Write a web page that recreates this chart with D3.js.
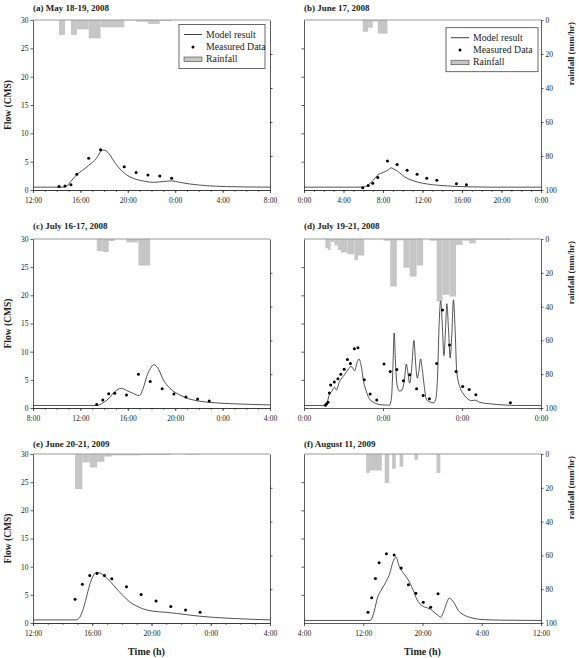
<!DOCTYPE html>
<html>
<head>
<meta charset="utf-8">
<script src="https://cdn.jsdelivr.net/npm/d3@7"></script>
<style>
  body { margin: 0; background: #fff; }
  svg { color: #222; }
  text { font-family: "Liberation Serif", "Times New Roman", serif; fill: #222; }
  .tick text { font-size: 7.5px; fill: #222; }
  .axis path, .axis line { stroke: #333; stroke-width: 0.8; }
</style>
</head>
<body>
<script>
// ---- data (time in hours from the first tick of each panel) ----
// (a) May 18-19, 2008  12:00 -> 8:00
var aModelT = [0, 2.5, 2.7, 2.96, 3.18, 3.44, 3.69, 4.2, 4.68, 5.35, 5.77, 5.97, 6.34, 6.76, 7.18, 7.75, 8.45, 9.3, 10.14, 10.99, 11.69, 12.39, 13.24, 14.65, 16.34, 20];
var aModelQ = [0.5, 0.5, 0.55, 0.9, 1.5, 2.1, 2.7, 3.5, 4.3, 5.6, 6.9, 7.05, 6.6, 5.3, 4.1, 2.9, 2.06, 1.6, 1.35, 1.5, 1.6, 1.35, 1.06, 0.76, 0.6, 0.5];
var aObsT = [2.2, 2.7, 3.2, 3.7, 4.7, 5.7, 7.7, 8.7, 9.7, 10.7, 11.7];
var aObsQ = [0.6, 0.7, 0.94, 2.76, 5.6, 7.1, 4.1, 3.1, 2.65, 2.47, 2.06];
var aRainS = [2.2, 3.2, 3.7, 4.7, 5.7, 7.7, 8.7, 9.7, 10.7];
var aRainE = [2.7, 3.7, 4.7, 5.7, 7.7, 8.7, 9.7, 10.7, 11.7];
var aRainV = [8.8, 8.8, 5.5, 10.8, 4.3, 0.3, 1.0, 2.3, 0.6];
var aTicks = [0, 4, 8, 12, 16, 20];
var aTickLabels = ["12:00", "16:00", "20:00", "0:00", "4:00", "8:00"];

// (b) June 17, 2008  0:00 -> 0:00
var bModelT = [0, 5.9, 6.5, 7.0, 7.5, 8.0, 8.5, 8.8, 9.2, 9.7, 10.2, 10.8, 11.5, 12.5, 13.5, 14.5, 15.5, 17, 19, 24];
var bModelQ = [0.5, 0.5, 0.9, 1.7, 2.7, 3.1, 3.5, 3.9, 3.6, 3.0, 2.3, 1.8, 1.4, 1.05, 0.85, 0.72, 0.62, 0.55, 0.5, 0.5];
var bObsT = [5.95, 6.5, 6.96, 7.47, 8.45, 9.43, 10.44, 11.45, 12.43, 13.45, 15.44, 16.45];
var bObsQ = [0.4, 0.8, 1.2, 2.2, 5.1, 4.5, 3.5, 2.8, 2.06, 1.7, 1.1, 0.94];
var bRainS = [5.95, 6.5, 6.96, 7.47];
var bRainE = [6.5, 6.96, 7.47, 8.45];
var bRainV = [6.9, 4.5, 0.8, 8.0];
var bTicks = [0, 4, 8, 12, 16, 20, 24];
var bTickLabels = ["0:00", "4:00", "8:00", "12:00", "16:00", "20:00", "0:00"];

// (c) July 16-17, 2008  8:00 -> 4:00
var cModelT = [0, 5.4, 5.9, 6.4, 6.9, 7.46, 7.9, 8.45, 8.96, 9.3, 9.58, 9.9, 10.2, 10.56, 11.0, 11.55, 12.4, 13.2, 14.1, 15.5, 16.9, 20];
var cModelQ = [0.45, 0.45, 0.9, 1.7, 2.9, 3.5, 3.1, 2.6, 2.2, 3.5, 5.5, 7.0, 7.7, 7.0, 5.0, 3.5, 2.3, 1.6, 1.2, 0.9, 0.75, 0.55];
var cObsT = [5.38, 5.89, 6.39, 6.9, 7.89, 8.9, 9.89, 10.9, 11.89, 12.9, 13.89, 14.87];
var cObsQ = [0.6, 1.4, 2.54, 2.6, 2.3, 6.0, 4.7, 3.4, 2.5, 1.95, 1.6, 1.24];
var cRainS = [5.38, 5.89, 6.39, 7.89, 8.9];
var cRainE = [5.89, 6.39, 6.9, 8.9, 9.89];
var cRainV = [7.1, 7.7, 1.2, 2.0, 15.7];
var cTicks = [0, 4, 8, 12, 16, 20];
var cTickLabels = ["8:00", "12:00", "16:00", "20:00", "0:00", "4:00"];

// (d) July 19-21, 2008  0:00 -> 0:00 (3 days)
var dModelT = [0, 6.5, 6.9, 7.7, 8.5, 9.2, 9.8, 10.8, 12.3, 13.6, 14.3, 15.4, 16.1, 16.7, 17.4, 18.1, 18.9, 19.9, 21.5, 23, 26.0,
  26.6, 27.0, 27.4, 27.8, 28.3, 29.0, 29.8, 30.5, 31.1, 31.5, 32.1, 32.7, 33.4, 33.9, 34.4, 34.9, 35.4, 35.9, 36.5, 37.2, 38.2, 39.3,
  40.0, 40.6, 41.0, 41.5, 42.0, 42.5, 43.0, 43.4, 43.9, 44.4, 44.9, 45.4, 45.9, 46.4, 47.5, 48.4, 49.4, 50.9, 51.9, 53.4, 56.4, 60.4, 64.6, 72];
var dModelQ = [0.45, 0.45, 0.7, 2.4, 3.0, 3.7, 3.2, 4.7, 5.9, 7.0, 7.4, 6.6, 8.0, 8.7, 7.4, 4.7, 3.0, 1.6, 0.9, 0.6, 0.5,
  2.0, 7.0, 13.3, 8.0, 4.0, 3.0, 3.2, 5.0, 7.8, 6.5, 4.4, 7.0, 12.0, 8.0, 5.3, 6.5, 8.7, 7.0, 4.0, 1.5, 1.1, 0.9,
  1.5, 6.0, 14.0, 19.0, 15.0, 9.3, 14.0, 18.5, 14.0, 8.9, 13.0, 19.2, 14.0, 6.5, 3.5, 2.5, 1.8, 1.3, 1.4, 1.0, 0.75, 0.55, 0.45, 0.45];
var dObsT = [6.5, 6.9, 7.3, 7.7, 8.1, 9.2, 10.3, 11.2, 12.2, 13.2, 14.1, 15.3, 16.4, 18.3, 20.1, 22.1, 24.3, 26.2, 28.2, 30.2, 32.1,
  34.2, 36.2, 38.1, 40.3, 42.1, 44.2, 46.2, 48.2, 50.2, 52.2, 62.7];
var dObsQ = [0.47, 0.77, 1.0, 2.66, 4.1, 4.6, 5.2, 6.0, 6.9, 8.6, 7.9, 10.5, 10.7, 5.0, 2.5, 1.4, 7.8, 6.5, 6.85, 4.84, 5.9,
  3.4, 2.2, 1.65, 7.9, 17.4, 11.2, 6.5, 3.8, 3.3, 2.36, 0.94];
var dRainS = [6.5, 7.3, 8.1, 9.2, 10.3, 11.2, 13.2, 15.3, 16.4, 24.2, 26.2, 28.2, 30.2, 32.1, 34.2, 38.1, 40.3, 42.1, 44.2, 46.2, 48.2, 50.2, 52.2];
var dRainE = [7.3, 8.1, 9.2, 10.3, 11.2, 13.2, 15.3, 16.4, 18.3, 26.2, 28.2, 30.2, 32.1, 34.2, 36.2, 40.3, 42.1, 44.2, 46.2, 48.2, 50.2, 52.2, 62.7];
var dRainV = [5.5, 6.5, 1.8, 3.8, 6.5, 8.0, 9.0, 12.4, 9.8, 1.0, 28.1, 0.8, 17.0, 22.2, 15.7, 1.0, 37.0, 33.0, 34.0, 3.5, 1.0, 2.5, 0.4];
var dTicks = [0, 24, 48, 72];
var dTickLabels = ["0:00", "0:00", "0:00", "0:00"];

// (e) June 20-21, 2009  12:00 -> 4:00
var eModelT = [0, 2.9, 3.15, 3.38, 3.6, 3.83, 4.05, 4.28, 4.5, 4.84, 5.2, 5.63, 6.1, 6.5, 7.0, 7.43, 8.1, 9.0, 9.7, 10.6, 11.26, 12.2, 13.5, 14.9, 16];
var eModelQ = [0.55, 0.55, 1.0, 2.4, 4.5, 6.8, 8.3, 9.0, 8.9, 8.3, 7.4, 6.1, 4.8, 3.8, 3.0, 2.5, 2.1, 1.9, 1.7, 1.4, 1.2, 1.0, 0.8, 0.65, 0.55];
var eObsT = [2.84, 3.33, 3.83, 4.32, 4.82, 5.32, 6.31, 7.3, 8.31, 9.3, 10.3, 11.28];
var eObsQ = [4.2, 6.9, 8.45, 8.8, 8.45, 7.86, 6.44, 5.08, 3.9, 2.95, 2.3, 1.9];
var eRainS = [2.84, 3.33, 3.83, 4.32, 4.82, 5.32, 7.3, 10.3];
var eRainE = [3.33, 3.83, 4.32, 4.82, 5.32, 7.3, 9.3, 11.28];
var eRainV = [20.7, 5.0, 8.0, 4.6, 1.5, 0.8, 0.6, 0.4];
var eTicks = [0, 4, 8, 12, 16];
var eTickLabels = ["12:00", "16:00", "20:00", "0:00", "4:00"];

// (f) August 11, 2009  4:00 -> 12:00
var fModelT = [0, 8.9, 9.2, 9.5, 9.95, 10.4, 11.1, 11.6, 12.0, 12.4, 12.9, 13.4, 14.1, 14.75, 15.2, 15.9, 17.0, 18.1, 18.45, 18.9, 19.3, 19.6, 20.2, 20.85, 21.5, 22.7, 24.3, 27, 32];
var fModelQ = [0.45, 0.45, 0.9, 2.2, 4.6, 5.8, 7.4, 8.9, 10.8, 11.7, 9.9, 8.9, 7.6, 5.8, 4.3, 3.1, 2.5, 1.35, 1.06, 2.2, 3.7, 4.4, 3.7, 2.2, 1.5, 0.9, 0.6, 0.5, 0.45];
var fObsT = [8.64, 9.14, 9.64, 10.14, 11.13, 12.17, 13.12, 14.1, 15.1, 16.1, 17.1, 18.1];
var fObsQ = [1.9, 4.5, 7.9, 10.7, 12.3, 12.05, 9.75, 6.8, 5.3, 3.7, 2.8, 5.2];
var fRainS = [8.4, 8.9, 10.9, 11.9, 12.9, 14.9, 17.9];
var fRainE = [8.9, 10.5, 11.5, 12.4, 13.4, 15.4, 18.4];
var fRainV = [11.2, 9.8, 17.2, 8.7, 7.5, 3.4, 11.2];
var fTicks = [0, 8, 16, 24, 32];
var fTickLabels = ["4:00", "12:00", "20:00", "4:00", "12:00"];

var flowTicks = [0, 5, 10, 15, 20, 25, 30];
var rainTicks = [0, 20, 40, 60, 80, 100];

var width = 579, height = 658;
var svg = d3.select("body").append("svg")
    .attr("width", width)
    .attr("height", height);

function zip(a, b) { return a.map(function(v, i) { return [v, b[i]]; }); }

function drawPanel(p) {
  var x = d3.scaleLinear().domain([0, p.span]).range([p.x0, p.x1]);
  var y = d3.scaleLinear().domain([0, 30]).range([p.y1, p.y0]);
  var r = d3.scaleLinear().domain([0, 100]).range([p.y0, p.y1]);
  var g = svg.append("g");

  // rainfall bars hanging from the top
  g.selectAll(".rain")
    .data(p.rainS.map(function(s, i) { return {s: s, e: p.rainE[i], v: p.rainV[i]}; }))
    .enter().append("rect")
    .attr("x", function(d) { return x(d.s); })
    .attr("y", r(0))
    .attr("width", function(d) { return x(d.e) - x(d.s); })
    .attr("height", function(d) { return r(d.v) - r(0); })
    .attr("fill", "#c6c6c6");

  // top frame line
  g.append("line")
    .attr("x1", p.x0).attr("x2", p.x1)
    .attr("y1", p.y0).attr("y2", p.y0)
    .attr("stroke", "#999").attr("stroke-width", 1);

  // model result
  var line = d3.line()
    .x(function(d) { return x(d[0]); })
    .y(function(d) { return y(d[1]); })
    .curve(d3.curveMonotoneX);
  g.append("path")
    .datum(zip(p.modelT, p.modelQ))
    .attr("d", line)
    .attr("fill", "none")
    .attr("stroke", "#1a1a1a")
    .attr("stroke-width", 0.75);

  // measured data
  g.selectAll(".obs")
    .data(zip(p.obsT, p.obsQ))
    .enter().append("circle")
    .attr("cx", function(d) { return x(d[0]); })
    .attr("cy", function(d) { return y(d[1]); })
    .attr("r", 1.5)
    .attr("fill", "#000");

  // axes
  g.append("g").attr("class", "axis")
    .attr("transform", "translate(0," + p.y1 + ")")
    .call(d3.axisBottom(x).tickValues(p.ticks)
      .tickFormat(function(d, i) { return p.tickLabels[i]; })
      .tickSize(3).tickPadding(5).tickSizeOuter(0));
  if (p.minor) {
    g.append("g").attr("class", "axis")
      .attr("transform", "translate(0," + p.y1 + ")")
      .call(d3.axisBottom(x).tickValues(d3.range(0, p.span, p.minor))
        .tickFormat("").tickSize(1.8).tickSizeOuter(0));
  }
  g.append("g").attr("class", "axis")
    .attr("transform", "translate(" + p.x0 + ",0)")
    .call(d3.axisLeft(y).tickValues(p.left ? flowTicks : flowTicks.slice(1, 6))
      .tickFormat(p.left ? d3.format("d") : "")
      .tickSize(2.5).tickPadding(2).tickSizeOuter(0));
  g.append("g").attr("class", "axis")
    .attr("transform", "translate(" + p.x1 + ",0)")
    .call(d3.axisRight(r).tickValues(p.left ? rainTicks.slice(1, 5) : rainTicks)
      .tickFormat(p.left ? "" : d3.format("d"))
      .tickSize(2.5).tickPadding(2).tickSizeOuter(0));

  // title
  g.append("text")
    .attr("x", p.x0).attr("y", p.titleY)
    .attr("font-size", 9).attr("font-weight", "bold")
    .text(p.title);

  if (p.left) {
    g.append("text")
      .attr("transform", "translate(11," + ((p.y0 + p.y1) / 2) + ") rotate(-90)")
      .attr("text-anchor", "middle")
      .attr("font-size", 9.5).attr("font-weight", "bold")
      .text("Flow (CMS)");
  } else {
    g.append("text")
      .attr("transform", "translate(574," + (p.y0 + 2) + ") rotate(-90)")
      .attr("text-anchor", "end")
      .attr("font-size", 9).attr("font-weight", "bold")
      .text("rainfall (mm/hr)");
  }
  if (p.timeLabel) {
    g.append("text")
      .attr("x", (p.x0 + p.x1) / 2 - (p.left ? 5 : 0)).attr("y", 655)
      .attr("text-anchor", "middle")
      .attr("font-size", 10).attr("font-weight", "bold")
      .text("Time (h)");
  }
  if (p.legend) {
    var L = p.legend;
    var lg = g.append("g").attr("transform", "translate(" + L[0] + "," + L[1] + ")");
    lg.append("rect").attr("width", L[2]).attr("height", 44)
      .attr("fill", "#fff").attr("stroke", "#444").attr("stroke-width", 0.8);
    lg.append("line").attr("x1", 5).attr("x2", 23).attr("y1", 10).attr("y2", 10)
      .attr("stroke", "#111").attr("stroke-width", 0.8);
    lg.append("circle").attr("cx", 14).attr("cy", 22.4).attr("r", 1.5).attr("fill", "#000");
    lg.append("rect").attr("x", 5).attr("y", 32.5).attr("width", 18).attr("height", 4.5)
      .attr("fill", "#c6c6c6").attr("stroke", "#444").attr("stroke-width", 0.6);
    ["Model result", "Measured Data", "Rainfall"].forEach(function(t, i) {
      lg.append("text").attr("x", 27).attr("y", 13.3 + i * 12.2)
        .attr("font-size", 9.8).text(t);
    });
  }
}

var panels = [
  {title: "(a) May 18-19, 2008", x0: 33, x1: 270, y0: 20, y1: 190, titleY: 11, span: 20, minor: 1, left: true,
   modelT: aModelT, modelQ: aModelQ, obsT: aObsT, obsQ: aObsQ, rainS: aRainS, rainE: aRainE, rainV: aRainV,
   ticks: aTicks, tickLabels: aTickLabels, legend: [179, 24.5, 86]},
  {title: "(b) June 17, 2008", x0: 304, x1: 541, y0: 20, y1: 190, titleY: 11, span: 24, minor: 1, left: false,
   modelT: bModelT, modelQ: bModelQ, obsT: bObsT, obsQ: bObsQ, rainS: bRainS, rainE: bRainE, rainV: bRainV,
   ticks: bTicks, tickLabels: bTickLabels, legend: [446, 27.7, 92]},
  {title: "(c) July 16-17, 2008", x0: 33, x1: 270, y0: 239, y1: 408, titleY: 229, span: 20, minor: 1, left: true,
   modelT: cModelT, modelQ: cModelQ, obsT: cObsT, obsQ: cObsQ, rainS: cRainS, rainE: cRainE, rainV: cRainV,
   ticks: cTicks, tickLabels: cTickLabels},
  {title: "(d) July 19-21, 2008", x0: 304, x1: 541, y0: 239, y1: 408, titleY: 229, span: 72, minor: 0, left: false,
   modelT: dModelT, modelQ: dModelQ, obsT: dObsT, obsQ: dObsQ, rainS: dRainS, rainE: dRainE, rainV: dRainV,
   ticks: dTicks, tickLabels: dTickLabels},
  {title: "(e) June 20-21, 2009", x0: 33, x1: 270, y0: 454, y1: 623, titleY: 447, span: 16, minor: 1, left: true,
   modelT: eModelT, modelQ: eModelQ, obsT: eObsT, obsQ: eObsQ, rainS: eRainS, rainE: eRainE, rainV: eRainV,
   ticks: eTicks, tickLabels: eTickLabels, timeLabel: true},
  {title: "(f) August 11, 2009", x0: 304, x1: 541, y0: 454, y1: 623, titleY: 447, span: 32, minor: 0, left: false,
   modelT: fModelT, modelQ: fModelQ, obsT: fObsT, obsQ: fObsQ, rainS: fRainS, rainE: fRainE, rainV: fRainV,
   ticks: fTicks, tickLabels: fTickLabels, timeLabel: true}
];

panels.forEach(drawPanel);
</script>
</body>
</html>
